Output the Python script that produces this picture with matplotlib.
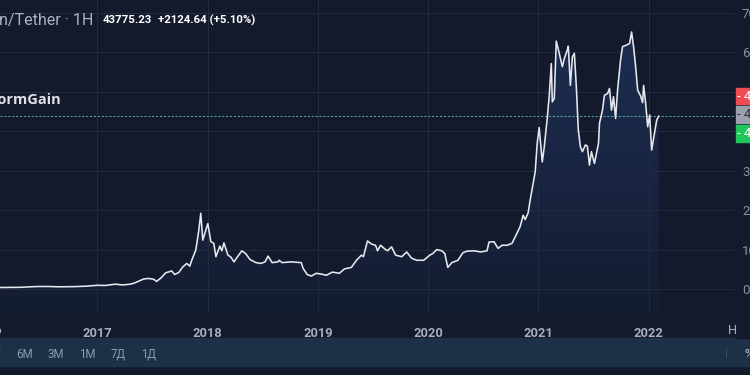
import numpy as np
import matplotlib
matplotlib.use("Agg")
import matplotlib.pyplot as plt
from matplotlib.colors import LinearSegmentedColormap
from matplotlib.patches import Rectangle

# weekly-ish closes (time as decimal year, price in USDT)
years = [2015.90, 2016.10, 2016.30, 2016.45, 2016.55, 2016.65, 2016.80, 2016.90, 2017.00,
         2017.073, 2017.164, 2017.228, 2017.301, 2017.337, 2017.373, 2017.419, 2017.464,
         2017.510, 2017.537, 2017.574, 2017.619, 2017.647, 2017.674, 2017.701, 2017.738,
         2017.774, 2017.811, 2017.838, 2017.856, 2017.893, 2017.920, 2017.938, 2017.956,
         2017.984, 2018.002, 2018.029, 2018.056, 2018.075, 2018.111, 2018.129, 2018.148,
         2018.184, 2018.211, 2018.239, 2018.275, 2018.311, 2018.348, 2018.384, 2018.439,
         2018.485, 2018.521, 2018.548, 2018.585, 2018.639, 2018.648, 2018.676, 2018.758,
         2018.849, 2018.867, 2018.903, 2018.940, 2018.985, 2019.031, 2019.077, 2019.131,
         2019.195, 2019.240, 2019.304, 2019.350, 2019.395, 2019.413, 2019.450, 2019.486,
         2019.523, 2019.541, 2019.568, 2019.614, 2019.632, 2019.668, 2019.705, 2019.741,
         2019.760, 2019.805, 2019.851, 2019.896, 2019.960, 2020.015, 2020.042, 2020.078,
         2020.124, 2020.151, 2020.178, 2020.215, 2020.270, 2020.315, 2020.352, 2020.415,
         2020.479, 2020.534, 2020.552, 2020.597, 2020.634, 2020.670, 2020.716, 2020.761,
         2020.789, 2020.834, 2020.862, 2020.880, 2020.907, 2020.925, 2020.953, 2020.971,
         2020.989, 2021.007, 2021.035, 2021.053, 2021.080, 2021.098, 2021.117, 2021.126,
         2021.144, 2021.162, 2021.189, 2021.217, 2021.235, 2021.262, 2021.271, 2021.290,
         2021.308, 2021.326, 2021.344, 2021.362, 2021.381, 2021.399, 2021.426, 2021.444,
         2021.463, 2021.481, 2021.508, 2021.545, 2021.554, 2021.581, 2021.599, 2021.627,
         2021.645, 2021.663, 2021.681, 2021.700, 2021.718, 2021.745, 2021.763, 2021.800,
         2021.827, 2021.845, 2021.863, 2021.882, 2021.900, 2021.927, 2021.945, 2021.954,
         2021.973, 2021.991, 2022.009, 2022.027, 2022.055, 2022.073, 2022.091]
price = [430, 400, 450, 650, 660, 580, 630, 740, 960,
         920, 1250, 1050, 1250, 1550, 2000, 2550, 2700,
         2500, 1950, 2750, 4100, 4350, 4600, 3700, 4200,
         5600, 6500, 5800, 7300, 9900, 14900, 19200, 12400,
         14900, 16600, 12000, 11600, 8200, 10900, 9700, 11700,
         8600, 8100, 6900, 8350, 9700, 8900, 7500, 6700,
         6500, 6900, 8350, 6700, 6900, 7300, 6700, 6900,
         6700, 5200, 3700, 3300, 4000, 3800, 3500, 4300,
         4000, 5100, 5500, 7300, 8600, 8200, 12200, 11400,
         11100, 9700, 11100, 10000, 9700, 10700, 8600, 8350,
         8200, 9400, 7800, 7300, 7300, 8600, 9000, 10000,
         9700, 9000, 5500, 6700, 7300, 9200, 9600, 9700,
         9400, 9700, 11900, 12000, 10300, 11100, 11100, 11600,
         13200, 15800, 18700, 17600, 19300, 22500, 26800, 29700,
         36900, 40900, 32200, 36000, 43200, 48900, 57100, 47400,
         48300, 62800, 59700, 56300, 58400, 60500, 61500, 51600,
         58800, 59700, 51200, 40300, 36000, 34800, 36500, 36200,
         31400, 34800, 31800, 36900, 42000, 45300, 49100, 49500,
         50800, 45300, 48700, 43200, 50400, 58000, 61400, 61800,
         62200, 65100, 61400, 56300, 50400, 48900, 47200, 51600,
         47000, 41100, 44100, 35200, 39800, 42800, 43775]

year_ticks = [2017, 2018, 2019, 2020, 2021, 2022]
price_ticks = [0, 10000, 20000, 30000, 40000, 50000, 60000, 70000]
last_price = 43775.23
tag_labels = ["44012.50", "43775.23", "43760.01"]
ranges = ["1Г", "6М", "3М", "1М", "7Д", "1Д"]

bg = "#131a2b"
W, H = 750, 375

fig = plt.figure(figsize=(7.5, 3.75), dpi=100, facecolor=bg)
ax = fig.add_axes([0, 1 - 312 / H, 735 / W, 312 / H], facecolor=bg)

ax.set_xlim(2016.117, 2022.783)
ax.set_ylim(-5800, 73200)

# gradient fill under the line
fill = ax.fill_between(years, price, -5800, color="none", lw=0)
cmap = LinearSegmentedColormap.from_list("f", ["#141c31", "#1d2e52"])
grad = np.linspace(0, 1, 256).reshape(-1, 1)
im = ax.imshow(grad, extent=[2015.5, 2023, -5800, 66000], origin="lower",
               aspect="auto", cmap=cmap, zorder=0.5)
im.set_clip_path(fill.get_paths()[0], transform=ax.transData)

ax.plot(years, price, color="#e6e8ef", lw=1.15, zorder=3)
ax.axhline(last_price, color="#4fa196", lw=0.8, ls=(0, (2, 1.5)), zorder=2.5)

ax.set_xticks(year_ticks)
ax.set_xticklabels([str(y) for y in year_ticks])
ax.set_yticks(price_ticks)
ax.set_yticklabels([str(p) for p in price_ticks])
ax.yaxis.tick_right()
ax.tick_params(axis="x", length=0, pad=11, colors="#a9aebb", labelsize=9.3)
ax.tick_params(axis="y", length=0, pad=5, colors="#8c93a4", labelsize=9.5)
for lab in ax.get_xticklabels():
    lab.set_fontfamily("Roboto")
    lab.set_fontweight("bold")
for lab in ax.get_yticklabels():
    lab.set_fontfamily("Roboto")
ax.grid(True, color="#222a3d", lw=0.8)
for s in ax.spines.values():
    s.set_visible(False)

def px(x, y):
    return x / W, 1 - y / H

# cut-off labels at the edges
fig.text(*px(-13, 330), "2016", color="#a9aebb", fontsize=9.3, fontfamily="Roboto",
         fontweight="bold", ha="center", va="center")
fig.text(*px(728, 330), "Нояб", color="#a9aebb", fontsize=9.3, fontfamily="Roboto",
         ha="left", va="center")
# price scale column hides the rest of the time label
fig.patches.append(Rectangle(px(737, 338), 13 / W, 20 / H, transform=fig.transFigure,
                             color=bg, zorder=4))

# price tags on the right
tag_colors = ["#f04b51", "#9aa0ad", "#1fc75a"]
tag_text = ["white", "#2a2e39", "white"]
tag_rows = [(88, 104), (106, 123), (125, 142)]
for (y0, y1), c, tc, lab in zip(tag_rows, tag_colors, tag_text, tag_labels):
    fig.patches.append(Rectangle(px(736, y1), 20 / W, (y1 - y0) / H,
                                 transform=fig.transFigure, color=c, zorder=5))
    fig.text(*px(737, (y0 + y1) / 2), "- " + lab, color=tc, fontsize=9.5,
             fontfamily="Roboto", ha="left", va="center", zorder=6)

# header
fig.text(*px(93, 20), "Bitcoin/Tether · 1H", color="#aeb2bd", fontsize=11.6,
         fontfamily="Roboto", ha="right", va="center")
fig.text(*px(103, 20), "43775.23", color="white", fontsize=8.2,
         fontfamily="Roboto", fontweight="bold", ha="left", va="center")
fig.text(*px(158, 20), "+2124.64 (+5.10%)", color="white", fontsize=8.2,
         fontfamily="Roboto", fontweight="bold", ha="left", va="center")

# watermark
fig.text(*px(61, 100), "StormGain", color="#dfe1e8", fontsize=10.5,
         fontfamily="Open Sans", fontweight="bold", ha="right", va="center")

# bottom range bar
fig.patches.append(Rectangle(px(0, 366), 1, 28 / H, transform=fig.transFigure,
                             color="#1c3147", zorder=1))
for i, r in enumerate(ranges):
    fig.text(*px(-6 + 31 * i, 354), r, color="#8e9bb0", fontsize=8.3,
             fontfamily="Roboto", ha="center", va="center", zorder=2)
fig.text(*px(726, 354), "|", color="#4a5a70", fontsize=6, ha="center", va="center", zorder=2)
fig.text(*px(744, 354), "%", color="#c0c6d2", fontsize=9, fontfamily="Roboto",
         ha="left", va="center", zorder=2)

fig.savefig("out.png", dpi=100, facecolor=bg)
